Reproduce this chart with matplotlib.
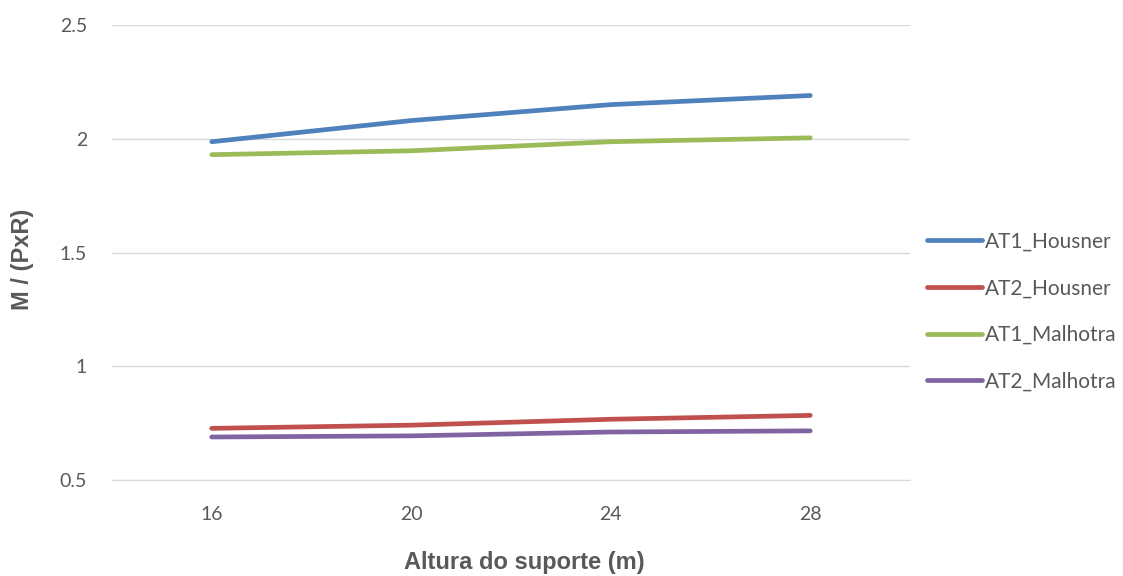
import matplotlib.pyplot as plt

plt.rcParams['font.family'] = ['Lato', 'DejaVu Sans']

alturas = ['16', '20', '24', '28']
at1_housner = [1.987, 2.08, 2.15, 2.19]
at2_housner = [0.727, 0.741, 0.767, 0.784]
at1_malhotra = [1.93, 1.947, 1.987, 2.004]
at2_malhotra = [0.689, 0.694, 0.711, 0.716]

series = [
    ('AT1_Housner', at1_housner, '#4F81BD'),
    ('AT2_Housner', at2_housner, '#C0504D'),
    ('AT1_Malhotra', at1_malhotra, '#9BBB59'),
    ('AT2_Malhotra', at2_malhotra, '#8064A2'),
]

fig = plt.figure(figsize=(11.23, 5.76), dpi=100)
ax = fig.add_axes([112 / 1123, 1 - 480 / 576, 798 / 1123, 455 / 576])

x = range(len(alturas))
for nome, vals, cor in series:
    ax.plot(x, vals, color=cor, linewidth=3.4, label=nome, solid_capstyle='round')

ax.set_xlim(-0.5, len(alturas) - 0.5)
ax.set_ylim(0.5, 2.5)
ax.set_xticks(list(x))
ax.set_xticklabels(alturas)
ax.set_yticks([0.5, 1, 1.5, 2, 2.5])
ax.set_yticklabels(['0.5', '1', '1.5', '2', '2.5'])
ax.grid(axis='y', color='#D9D9D9', linewidth=1)
ax.set_axisbelow(True)
for s in ['top', 'right', 'left']:
    ax.spines[s].set_visible(False)
ax.spines['bottom'].set_color('#D9D9D9')
ax.tick_params(axis='x', length=0, labelsize=14, colors='#595959', pad=19)
ax.tick_params(axis='y', length=0, labelsize=14, colors='#595959', pad=18)

rotulo = dict(fontsize=17, fontweight='bold', color='#595959', family=['Liberation Sans'])
fig.text(524 / 1123, 1 - 563 / 576, 'Altura do suporte (m)', ha='center', va='center', **rotulo)
fig.text(22 / 1123, 1 - 259 / 576, 'M / (PxR)', ha='center', va='center', rotation=90, **rotulo)

leg = ax.legend(loc='center left', bbox_to_anchor=(0.998, 0.37), frameon=False,
                fontsize=15, handlelength=2.65, labelspacing=1.28, handletextpad=0.12)
for t in leg.get_texts():
    t.set_color('#595959')

fig.savefig('out.png', dpi=100)
